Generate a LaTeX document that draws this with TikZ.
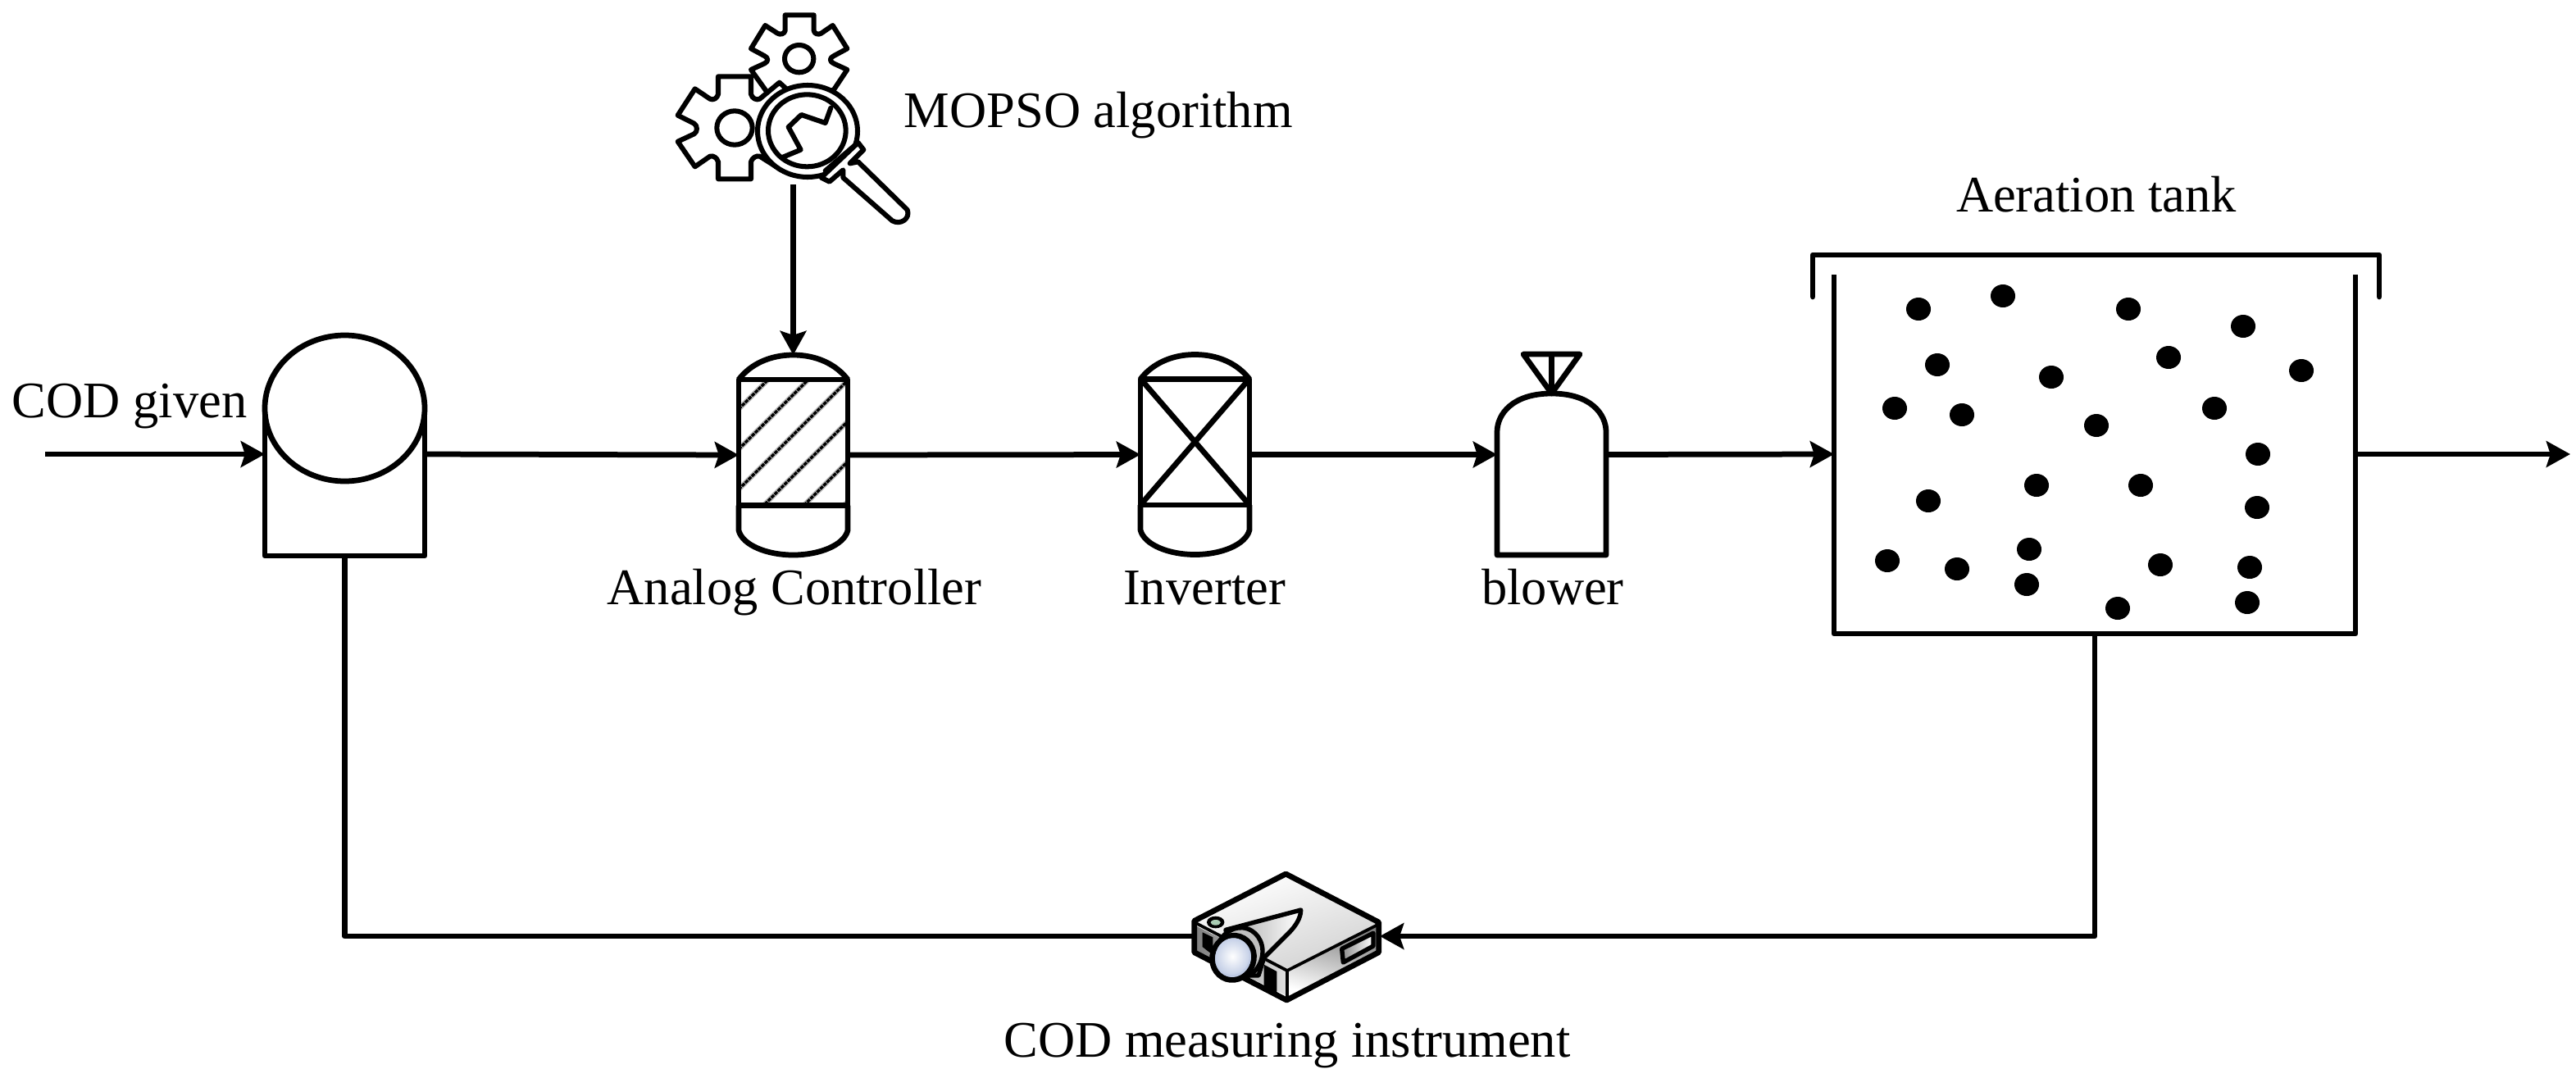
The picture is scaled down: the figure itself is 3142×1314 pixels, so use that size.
\documentclass[tikz,border=0pt]{standalone}
\usepackage{fontspec}
\setmainfont{Liberation Serif}
\usetikzlibrary{arrows.meta}
\definecolor{lensblue}{RGB}{190,202,228}
\definecolor{knob}{RGB}{170,205,180}
\tikzset{
  sym/.style={rectangle,inner sep=0pt,outer sep=0pt,minimum width=#1*0.24pt},
  lab/.style={anchor=base,inner sep=0pt,font=\fontsize{15}{18}\selectfont},
  thick line/.style={line width=1.62pt,line join=round},
  thin part/.style={line width=1.45pt,line join=round,line cap=round},
  flow/.style={line width=1.62pt,line join=round,-{Stealth[length=7pt,width=7.6pt,inset=1.2pt]}},
  plain flow/.style={line width=1.62pt,line join=round},
  bubble/.style={fill=black,draw=none},
  vessel/.pic={
    \draw[thick line] (-66.5,-92) rectangle (66.5,61.5);
    \draw[thick line] (-66.5,-92) .. controls (-52,-111) and (-28,-122) .. (0,-122) .. controls (28,-122) and (52,-111) .. (66.5,-92);
    \draw[thick line] (-66.5,61.5) -- (-66.5,92) .. controls (-62,110) and (-32,122) .. (0,122) .. controls (32,122) and (62,110) .. (66.5,92) -- (66.5,61.5);
  }
}
\begin{document}
\begin{tikzpicture}[x=0.24pt,y=-0.24pt]
\useasboundingbox (0,0) rectangle (3142,1314);
% ---- symbol bodies (named anchors for the connectors)
\node[sym=195,minimum height=248*0.24pt] (comp) at (420.5,554) {};
\node[sym=133,minimum height=244*0.24pt] (ctrl) at (967.5,555) {};
\node[sym=133,minimum height=245*0.24pt] (inv) at (1457.5,554.5) {};
\node[sym=133,minimum height=245*0.24pt] (blow) at (1892.5,554.5) {};
\node[sym=636,minimum height=438*0.24pt] (tank) at (2555,554) {};
\node[sym=228,minimum height=159*0.24pt] (proj) at (1569,1142) {};
\coordinate (in) at (55,554);
\coordinate (out) at (3135,554);
\coordinate (mag) at (967.5,225);
% ---- comparator
\draw[thick line] (323,490) -- (323,678) -- (518,678) -- (518,490);
\draw[thick line] (420.5,498) ellipse [x radius=97.5,y radius=89];
% ---- controller
\begin{scope}
\clip (901,463) rectangle (1034,616);
\foreach \c in {1400,1449,1498,1548,1597,1646}{
  \draw[line width=1.5pt,black!28] (901,\c-901) -- (1034,\c-1034);
  \draw[line width=0.8pt,black,dash pattern=on 1.1pt off 0.25pt] (901,\c-901) -- (1034,\c-1034);
}
\end{scope}
\pic at (ctrl.center) {vessel};
% ---- inverter
\pic at (inv.center) {vessel};
\draw[thick line] (1391,462) -- (1524,616) (1524,462) -- (1391,616);
% ---- blower
\draw[thick line] (1826,527) .. controls (1826,505) and (1845,480) .. (1892.5,480) .. controls (1940,480) and (1959,505) .. (1959,527) -- (1959,677) -- (1826,677) -- cycle;
\draw[thick line] (1892.5,480) -- (1858,432) -- (1927,432) -- cycle (1892.5,432) -- (1892.5,480);
% ---- tank
\draw[thick line] (2237,335) -- (2237,773) -- (2873,773) -- (2873,335);
\draw[thick line,line cap=round] (2211,362) -- (2211,311) -- (2902,311) -- (2902,362);
\foreach \x/\y in {2340/377,2443/361,2363/445,2502/460,2311/498,2393/506,2596/377,2736/398,2645/436,2807/452,2701/498,2557/519,2754/554,2611/592,2753/619,2635/689,2744/692,2583/742,2741/735,2484/592,2352/611,2302/684,2387/694,2475/670,2472/713}
  \fill[bubble] (\x,\y) ellipse [x radius=15,y radius=14];
% ---- gears and magnifier
\begin{scope}[shift={(780,0)},scale=1/3]
\draw[thin part,fill=white] (533,55) -- (638,55) -- (638,112) .. controls (640,125) and (655,128) .. (665,122) -- (707,93) -- (760,178) -- (710,205) .. controls (695,212) and (695,225) .. (710,232) -- (760,255) -- (710,330) -- (465,335) -- (408,255) -- (458,232) .. controls (472,225) and (472,212) .. (458,205) -- (408,178) -- (460,93) -- (505,122) .. controls (515,128) and (530,125) .. (533,112) -- cycle;
\draw[thin part] (584,215) circle [x radius=53,y radius=50];
\draw[thin part,fill=white] (288,280) -- (408,280) -- (408,345) .. controls (412,360) and (428,368) .. (440,362) -- (512,302) -- (620,400) -- (620,640) -- (500,610) -- (440,572) .. controls (428,568) and (412,578) .. (408,592) -- (408,655) -- (288,655) -- (288,592) .. controls (284,578) and (270,568) .. (258,572) -- (203,610) -- (140,518) -- (200,490) .. controls (213,483) and (213,460) .. (200,452) -- (140,422) -- (203,325) -- (258,362) .. controls (270,368) and (284,360) .. (288,345) -- cycle;
\draw[thin part] (348,468) circle [x radius=65,y radius=62];
\draw[thin part,fill=white] (615,480) ellipse [x radius=183,y radius=168];
\draw[thin part] (613,478) ellipse [x radius=142,y radius=132];
\draw[thin part] (700,395) -- (680,450) -- (592,420) -- (545,465) -- (590,548) -- (525,575);
\draw[thin part,fill=white] (800,522) -- (820,548) -- (770,598) -- (800,592) -- (980,768) .. controls (992,800) and (955,825) .. (925,808) -- (745,650) -- (745,622) -- (695,665) -- (665,650) -- cycle;
\draw[thin part] (680,625) -- (790,530);
\end{scope}
% ---- projector
\begin{scope}[shift={(1420,1040)},scale=1/3]
\fill[white] (445,78) -- (785,255) -- (785,365) -- (448,540) -- (110,365) -- (110,250) -- cycle;
\shade[left color=black!50,right color=black!12] (120,270) -- (450,435) -- (450,525) -- (115,360) -- cycle;
\shade[shading=axis,top color=white,bottom color=black!18,shading angle=20] (445,85) -- (778,258) -- (450,430) -- (118,258) -- cycle;
\shade[shading=axis,left color=black!50,right color=white,shading angle=-15] (452,435) -- (778,268) -- (778,360) -- (452,525) -- cycle;
\fill[black] (140,292) -- (178,310) -- (178,375) -- (140,345) -- cycle;
\fill[black] (365,410) -- (412,435) -- (412,512) -- (365,490) -- cycle;
\draw[line width=1.3pt,line join=round,left color=black!45,right color=white] (650,352) -- (765,295) -- (765,342) -- (655,402) -- cycle;
\draw[line width=1.62pt,line join=round] (445,78) -- (785,255) -- (785,365) -- (448,540) -- (110,365) -- (110,250) -- cycle;
\draw[line width=0.9pt] (110,255) -- (450,432) -- (785,262);
\draw[line width=0.9pt] (450,432) -- (450,540);
\draw[line width=1.1pt,fill=black!10] (188,255) ellipse [x radius=25,y radius=15];
\fill[knob] (188,256) ellipse [x radius=18,y radius=10];
\draw[line width=1.3pt,line join=round,left color=black!35,right color=white] (225,283) -- (500,210) .. controls (500,240) and (480,270) .. (455,295) -- (365,385) -- (345,450) -- (265,450) -- cycle;
\draw[line width=1.3pt,fill=black!25,rotate around={-18:(275,368)}] (275,368) ellipse [x radius=84,y radius=94];
\draw[line width=1.6pt,fill=lensblue,rotate around={-18:(252,385)}] (252,385) ellipse [x radius=76,y radius=82];
\shade[inner color=white,outer color=lensblue,rotate around={-18:(250,380)}] (250,380) ellipse [x radius=62,y radius=68];
\end{scope}
% ---- connectors
\draw[flow] (in) -- (comp.west);
\draw[flow] (comp.east) -- (ctrl.west);
\draw[flow] (ctrl.east) -- (inv.west);
\draw[flow] (inv.east) -- (blow.west);
\draw[flow] (blow.east) -- (tank.west);
\draw[flow] (tank.east) -- (out);
\draw[flow] (mag) -- (ctrl.north);
\draw[plain flow] (comp.south) |- (proj.west);
\draw[flow] (tank.south) |- (proj.east);
% ---- labels
\node[lab,anchor=base west] (l1) at (14,509) {COD given};
\node[lab,anchor=base west] (l2) at (1102,155) {MOPSO algorithm};
\node[lab] (l3) at (2557,258) {Aeration tank};
\node[lab] (l4) at (969,737) {Analog Controller};
\node[lab] (l5) at (1469,737) {Inverter};
\node[lab] (l6) at (1894,737) {blower};
\node[lab] (l7) at (1570,1289) {COD measuring instrument};
\end{tikzpicture}
\end{document}
